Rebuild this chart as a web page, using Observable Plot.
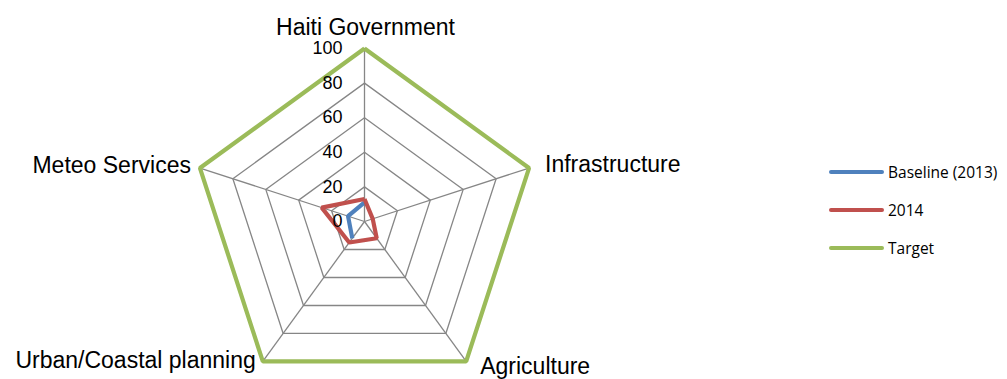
<!DOCTYPE html>
<html>
<head>
<meta charset="utf-8">
<script src="https://cdn.jsdelivr.net/npm/d3@7"></script>
<script src="https://cdn.jsdelivr.net/npm/@observablehq/plot@0.6"></script>
<style>
  html, body { margin: 0; padding: 0; background: #fff; }
  #wrap { position: relative; width: 1007px; height: 379px; overflow: hidden; }
  #legend { position: absolute; left: 829px; top: 162px; font-family: "Open Sans", "Liberation Sans", Arial, sans-serif; font-size: 15.5px; color: #000; }
  .item { position: absolute; left: 0; display: flex; align-items: center; white-space: nowrap; height: 20px; }
  .swatch { width: 55px; height: 4px; border-radius: 2px; margin-right: 4px; }
</style>
</head>
<body>
<div id="wrap"><div id="legend"></div></div>
<script>
// ---- data ----
const categories = ["Haiti Government", "Infrastructure", "Agriculture", "Urban/Coastal planning", "Meteo Services"];
const seriesNames = ["Baseline (2013)", "2014", "Target"];
const baseline2013 = [11, null, null, 12, 10];
const values2014 = [13, 5, 12, 15, 26];
const targetValues = [100, 100, 100, 100, 100];
const tickValues = [0, 20, 40, 60, 80, 100];
const colors = ["#4F81BD", "#C0504D", "#9BBB59"];

// ---- geometry helpers ----
const n = categories.length;
const ang = i => (i * 2 * Math.PI) / n;
const px = (v, i) => v == null ? NaN : v * Math.sin(ang(i));
const py = (v, i) => v == null ? NaN : v * Math.cos(ang(i));

const allSeries = [baseline2013, values2014, targetValues];
const lineData = [];
allSeries.forEach((vals, s) => {
  for (let k = 0; k <= n; k++) {
    const i = k % n;
    lineData.push({series: seriesNames[s], x: px(vals[i], i), y: py(vals[i], i)});
  }
});

const gridData = [];
tickValues.filter(t => t > 0).forEach(t => {
  for (let k = 0; k <= n; k++) {
    const i = k % n;
    gridData.push({level: t, x: px(t, i), y: py(t, i)});
  }
});
const maxTick = d3.max(tickValues);
const spokes = categories.map((c, i) => ({x2: px(maxTick, i), y2: py(maxTick, i)}));

// label layout (styling only)
const labelLayout = [
  {anchor: "middle", dx: 1, dy: -21},
  {anchor: "start", dx: 16, dy: -3},
  {anchor: "start", dx: 14, dy: 5},
  {anchor: "end", dx: -7, dy: -1},
  {anchor: "end", dx: -9, dy: -2}
];

// pixel frame: center (364,221), 1.73 px per unit
const cx = 364, cy = 221, k = 1.73, W = 1007, H = 379;

const chart = Plot.plot({
  width: W,
  height: H,
  margin: 0,
  x: {domain: [-cx / k, (W - cx) / k], axis: null},
  y: {domain: [(cy - H) / k, cy / k], axis: null},
  style: {fontFamily: "'Liberation Sans', Arial, sans-serif", background: "transparent"},
  marks: [
    Plot.link(spokes, {x1: 0, y1: 0, x2: "x2", y2: "y2", stroke: "#868686", strokeWidth: 1.3}),
    Plot.line(gridData, {x: "x", y: "y", z: "level", stroke: "#868686", strokeWidth: 1.3, curve: "linear"}),
    Plot.line(lineData, {
      x: "x", y: "y", z: "series",
      stroke: d => colors[seriesNames.indexOf(d.series)],
      strokeWidth: 4.2, strokeLinejoin: "miter", strokeLinecap: "butt", curve: "linear"
    }),
    Plot.text(tickValues, {x: 0, y: d => d, text: d => String(d), textAnchor: "end", dx: -22, fontSize: 18, fill: "#000"}),
    ...categories.map((c, i) => Plot.text([c], {
      x: px(maxTick, i), y: py(maxTick, i), text: d => d,
      textAnchor: labelLayout[i].anchor, dx: labelLayout[i].dx, dy: labelLayout[i].dy,
      fontSize: 23, fill: "#000"
    }))
  ]
});
document.getElementById("wrap").prepend(chart);

// legend
const legend = document.getElementById("legend");
seriesNames.forEach((name, s) => {
  const item = document.createElement("div");
  item.className = "item";
  item.style.top = (s * 38) + "px";
  const sw = document.createElement("div");
  sw.className = "swatch";
  sw.style.background = colors[s];
  const lab = document.createElement("span");
  lab.textContent = name;
  item.appendChild(sw);
  item.appendChild(lab);
  legend.appendChild(item);
});
</script>
</body>
</html>
